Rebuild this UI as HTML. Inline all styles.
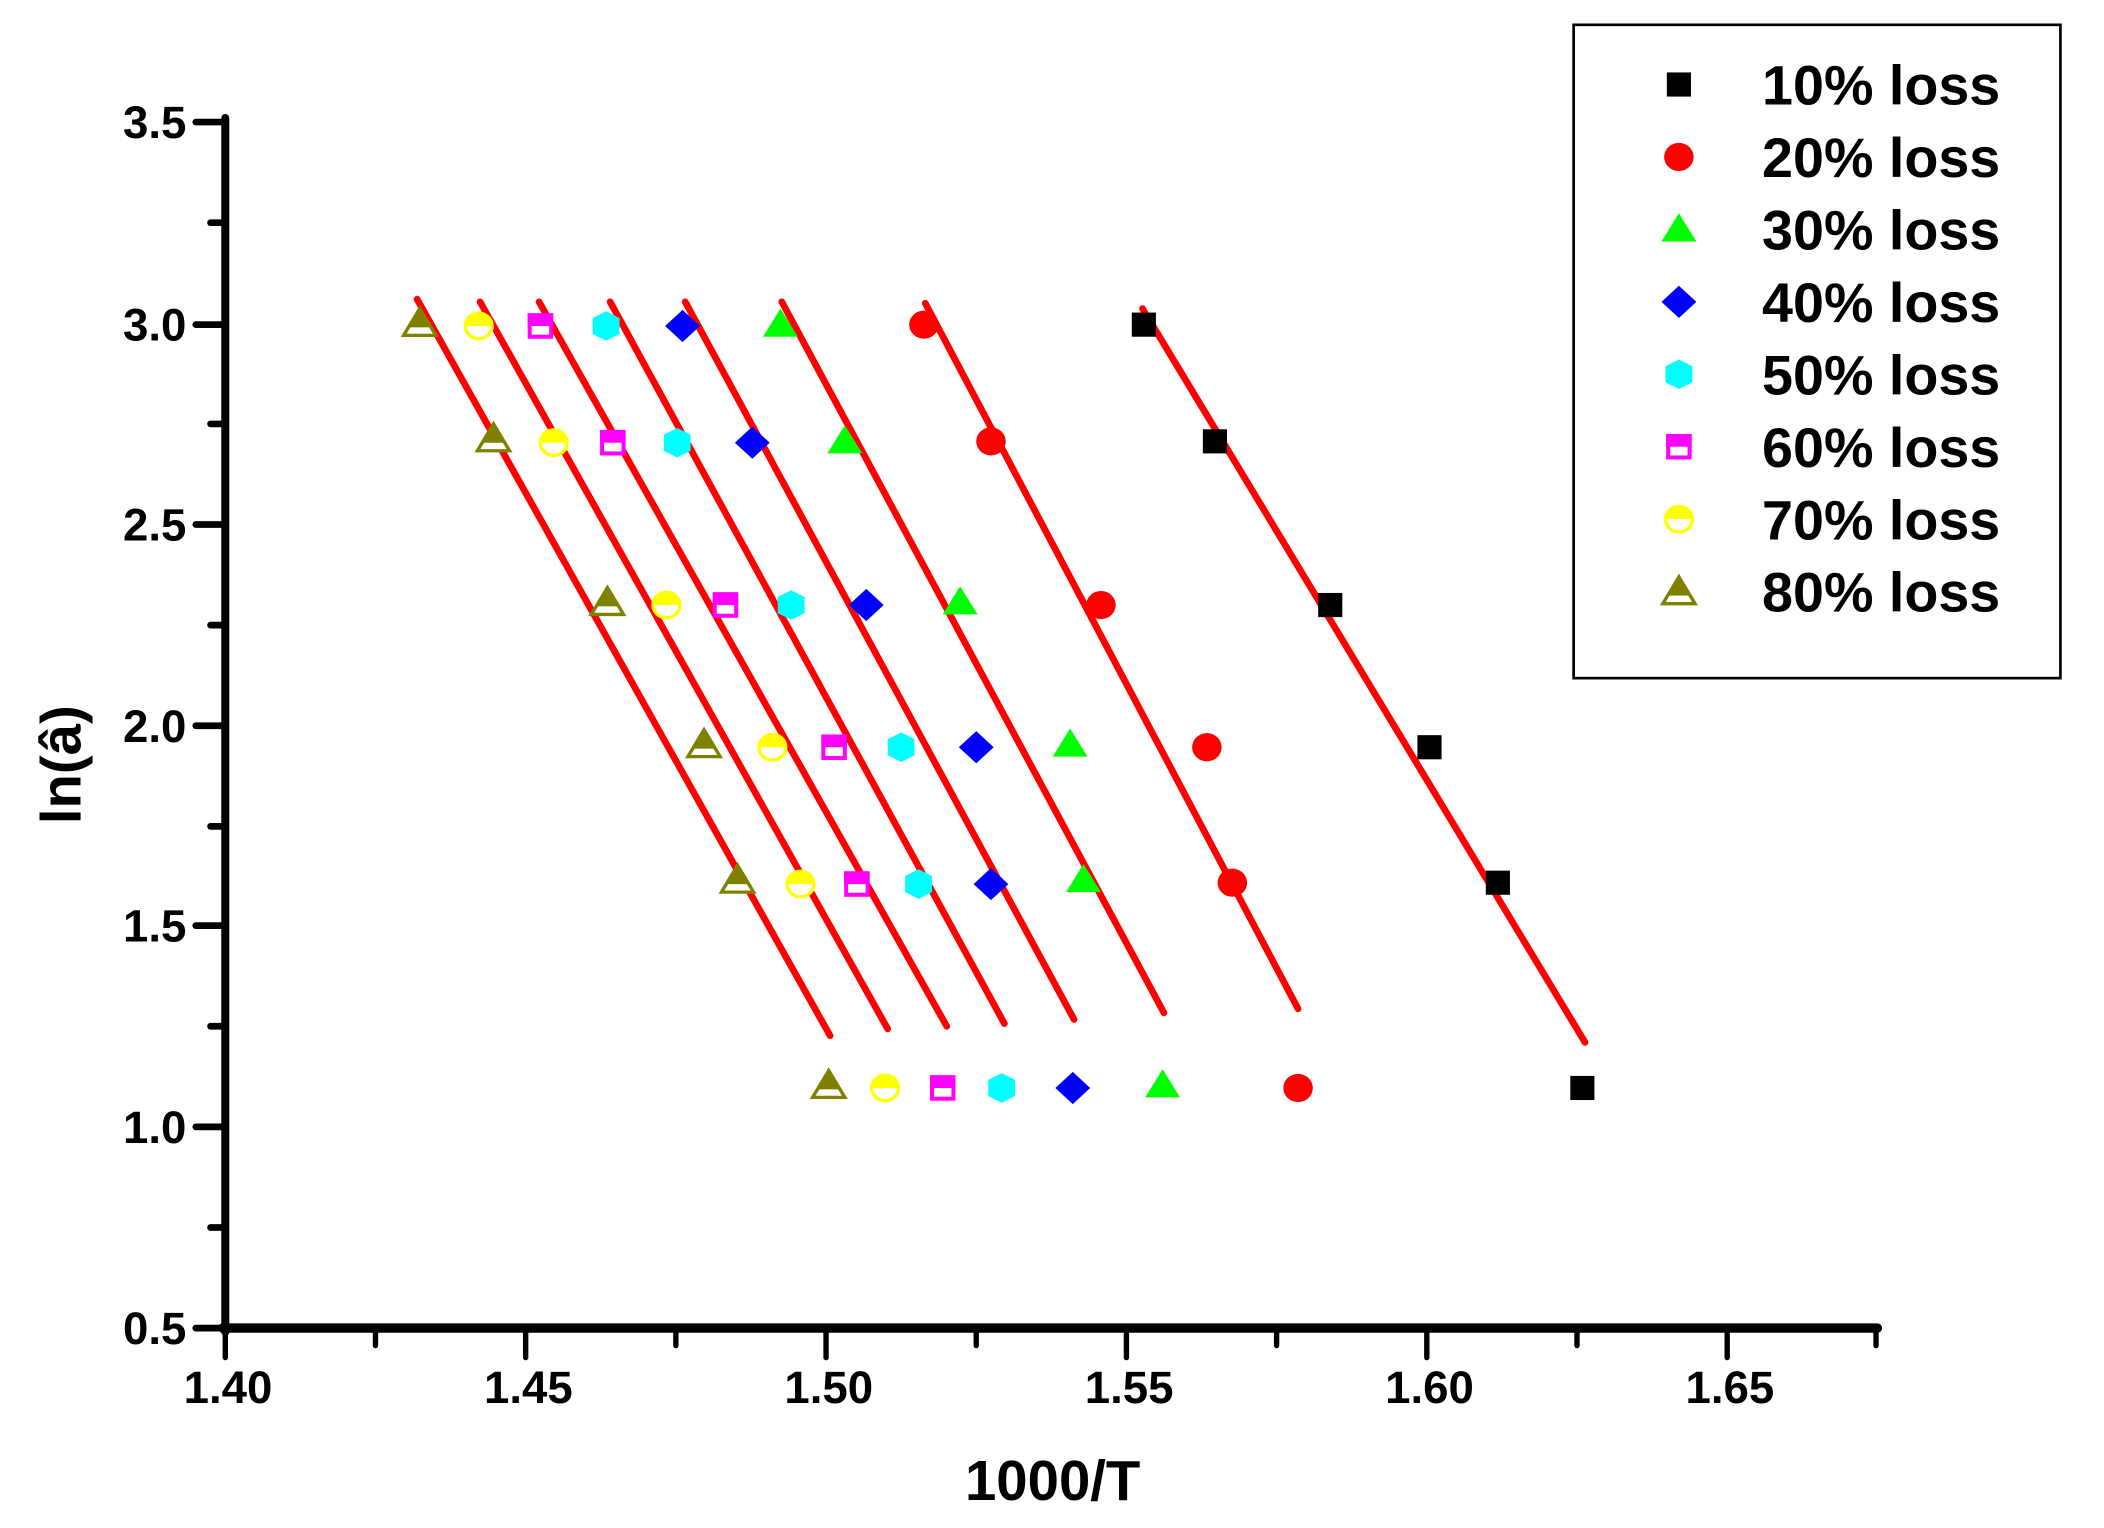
<!DOCTYPE html>
<html><head><meta charset="utf-8"><style>html,body{margin:0;padding:0;background:#fff}svg{display:block}text{font-family:"Liberation Sans",Arial,sans-serif;font-weight:bold}</style></head>
<body>
<svg width="2104" height="1528" viewBox="0 0 1569 1139" preserveAspectRatio="none" xmlns="http://www.w3.org/2000/svg">
<defs>
<g id="sq"><rect x="-9" y="-9" width="18" height="18" fill="#000"/></g>
<g id="ci"><ellipse rx="11" ry="10.5" fill="#f00"/></g>
<g id="tr"><polygon points="0,-12 13,9 -13,9" fill="#0f0"/></g>
<g id="di"><polygon points="0,-12 13,0 0,12 -13,0" fill="#00f"/></g>
<g id="hx"><polygon points="-10,-6 0,-11 10,-6 10,6 0,11 -10,6" fill="#0ff"/></g>
<g id="ms"><rect x="-8" y="-8" width="16" height="16" fill="#fff" stroke="#f0f" stroke-width="3"/><rect x="-9.5" y="-9.5" width="19" height="9.5" fill="#f0f"/></g>
<g id="yc"><ellipse rx="10" ry="9.5" fill="#fff" stroke="#ff0" stroke-width="2.5"/><path d="M-11,0 A11,10.5 0 0 1 11,0 Z" fill="#ff0"/></g>
<g id="ot"><polygon points="0,-11 12,9 -12,9" fill="#fff" stroke="#808000" stroke-width="2.5"/><polygon points="0,-12 9,3 -9,3" fill="#808000"/></g>
</defs>

<g stroke="#000" stroke-linecap="round">
<line x1="168" y1="88" x2="168" y2="993" stroke-width="6"/>
<line x1="166" y1="990" x2="1400" y2="990" stroke-width="7"/>
<g stroke-width="5">
<line x1="146" y1="91" x2="168" y2="91"/><line x1="146" y1="242" x2="168" y2="242"/><line x1="146" y1="391" x2="168" y2="391"/><line x1="146" y1="541" x2="168" y2="541"/><line x1="146" y1="690" x2="168" y2="690"/><line x1="146" y1="840" x2="168" y2="840"/><line x1="146" y1="990" x2="168" y2="990"/>
<line x1="157" y1="166" x2="168" y2="166"/><line x1="157" y1="316" x2="168" y2="316"/><line x1="157" y1="466" x2="168" y2="466"/><line x1="157" y1="616" x2="168" y2="616"/><line x1="157" y1="765" x2="168" y2="765"/><line x1="157" y1="915" x2="168" y2="915"/>
</g>
<g stroke-width="4">
<line x1="168" y1="990" x2="168" y2="1012"/><line x1="392" y1="990" x2="392" y2="1012"/><line x1="616" y1="990" x2="616" y2="1012"/><line x1="840" y1="990" x2="840" y2="1012"/><line x1="1064" y1="990" x2="1064" y2="1012"/><line x1="1288" y1="990" x2="1288" y2="1012"/>
<line x1="280" y1="990" x2="280" y2="1003"/><line x1="504" y1="990" x2="504" y2="1003"/><line x1="728" y1="990" x2="728" y2="1003"/><line x1="952" y1="990" x2="952" y2="1003"/><line x1="1176" y1="990" x2="1176" y2="1003"/><line x1="1399" y1="990" x2="1399" y2="1003"/>
</g>
</g>
<g font-size="34" text-anchor="end">
<text x="139" y="103">3.5</text><text x="139" y="254">3.0</text><text x="139" y="403">2.5</text><text x="139" y="553">2.0</text><text x="139" y="702">1.5</text><text x="139" y="852">1.0</text><text x="139" y="1002">0.5</text>
</g>
<g font-size="34" text-anchor="middle">
<text x="170" y="1046">1.40</text><text x="394" y="1046">1.45</text><text x="618" y="1046">1.50</text><text x="842" y="1046">1.55</text><text x="1066" y="1046">1.60</text><text x="1290" y="1046">1.65</text>
</g>
<text x="785" y="1118" font-size="42" text-anchor="middle">1000/T</text>
<text transform="translate(60,570) rotate(-90)" font-size="42" text-anchor="middle">ln(â)</text>

<g stroke="#f00" stroke-width="5" stroke-linecap="round">
<line x1="852" y1="230" x2="1182" y2="777"/>
<line x1="690" y1="226" x2="968" y2="752"/>
<line x1="583" y1="225" x2="868" y2="755"/>
<line x1="511" y1="225" x2="801" y2="760"/>
<line x1="455" y1="225" x2="749" y2="763"/>
<line x1="402" y1="225" x2="706" y2="765"/>
<line x1="358" y1="225" x2="662" y2="767"/>
<line x1="311" y1="223" x2="619" y2="772"/>
</g>

<use href="#sq" x="853" y="242"/><use href="#sq" x="906" y="329"/><use href="#sq" x="992" y="451"/><use href="#sq" x="1066" y="557"/><use href="#sq" x="1117" y="658"/><use href="#sq" x="1180" y="811"/>
<use href="#ci" x="689" y="242"/><use href="#ci" x="739" y="329"/><use href="#ci" x="821" y="451"/><use href="#ci" x="900" y="557"/><use href="#ci" x="919" y="658"/><use href="#ci" x="968" y="811"/>
<use href="#tr" x="582" y="242"/><use href="#tr" x="630" y="329"/><use href="#tr" x="716" y="449"/><use href="#tr" x="798" y="555"/><use href="#tr" x="808" y="656"/><use href="#tr" x="867" y="809"/>
<use href="#di" x="509" y="243"/><use href="#di" x="561" y="330"/><use href="#di" x="646" y="451"/><use href="#di" x="728" y="557"/><use href="#di" x="739" y="659"/><use href="#di" x="800" y="811"/>
<use href="#hx" x="452" y="243"/><use href="#hx" x="505" y="330"/><use href="#hx" x="590" y="451"/><use href="#hx" x="672" y="557"/><use href="#hx" x="685" y="659"/><use href="#hx" x="747" y="811"/>
<use href="#ms" x="403" y="243"/><use href="#ms" x="457" y="330"/><use href="#ms" x="541" y="451"/><use href="#ms" x="622" y="557"/><use href="#ms" x="639" y="659"/><use href="#ms" x="703" y="811"/>
<use href="#yc" x="357" y="243"/><use href="#yc" x="413" y="330"/><use href="#yc" x="497" y="451"/><use href="#yc" x="576" y="557"/><use href="#yc" x="597" y="659"/><use href="#yc" x="660" y="811"/>
<use href="#ot" x="313" y="241"/><use href="#ot" x="368" y="327"/><use href="#ot" x="453" y="449"/><use href="#ot" x="525" y="555"/><use href="#ot" x="550" y="656"/><use href="#ot" x="618" y="809"/>

<rect x="1173.5" y="18.5" width="363" height="487" fill="#fff" stroke="#000" stroke-width="2"/>
<use href="#sq" x="1252" y="63"/><use href="#ci" x="1252" y="117"/><use href="#tr" x="1252" y="171"/><use href="#di" x="1252" y="225"/><use href="#hx" x="1252" y="279"/><use href="#ms" x="1252" y="333"/><use href="#yc" x="1252" y="387"/><use href="#ot" x="1252" y="441"/>
<g font-size="41.5">
<text x="1314" y="78">10% loss</text><text x="1314" y="132">20% loss</text><text x="1314" y="186">30% loss</text><text x="1314" y="240">40% loss</text><text x="1314" y="294">50% loss</text><text x="1314" y="348">60% loss</text><text x="1314" y="402">70% loss</text><text x="1314" y="456">80% loss</text>
</g>
</svg>
</body></html>
